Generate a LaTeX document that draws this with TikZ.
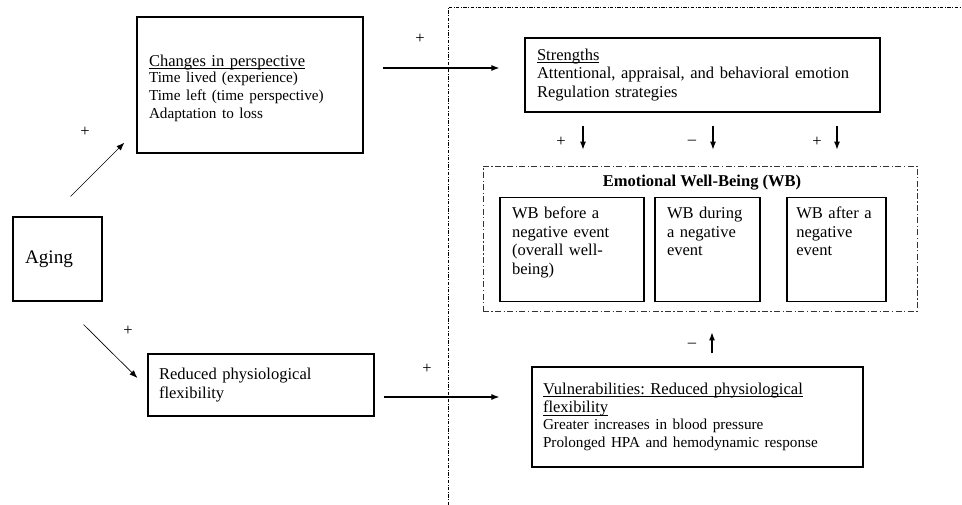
\documentclass[tikz,border=0pt]{standalone}
\usepackage{fontspec}
\setmainfont{Liberation Serif}
\usetikzlibrary{arrows.meta}
\newcommand\bigsize{\fontsize{14.4}{16}\selectfont}
\newcommand\mainsize{\fontsize{12.4}{14}\selectfont}
\newcommand\smallsize{\fontsize{11.4}{13.2}\selectfont}
\newcommand\uln[1]{\leavevmode\setbox0\hbox{#1}\rlap{\rule[-1.8pt]{\wd0}{0.5pt}}\box0}
\frenchspacing
\begin{document}
\begin{tikzpicture}[%
    x=0.75pt,y=-0.75pt,
    box/.style={draw,line width=0.9pt,inner xsep=9pt,align=left,font=\mainsize},
    wbbox/.style={box,anchor=north,inner ysep=3pt,text height=12.75pt,text depth=59.25pt},
    sign/.style={font=\mainsize,inner sep=0pt},
    arr/.style={-{Latex[length=6pt,width=4.5pt]},line width=0.8pt},
    sep/.style={line width=0.5pt,dash pattern=on 2.5pt off 1.2pt on 0.6pt off 1.2pt},
    group/.style={draw,line width=0.6pt,black!80,dash pattern=on 4.5pt off 1.8pt on 1pt off 1.8pt}
  ]
		\useasboundingbox (0,0) rectangle (962,505);

		\draw[sep] (448,505) -- (448,7) -- (962,7);

		\node at (57.5,259) [box,font=\bigsize,text width=48.75pt,minimum height=63pt] (aging) {Aging};

		\node at (250,85) [box,text width=151.5pt,minimum height=102pt] (changes)
			{\rule{0pt}{14pt}\uln{Changes in perspective}\\[-1pt]
			{\smallsize Time lived (experience)\\Time left (time perspective)\\Adaptation to loss}};
		\node at (261,385) [box,inner xsep=8.25pt,text width=153pt,minimum height=46.5pt] (reduced)
			{Reduced physiological\\flexibility};

		\node at (702.5,75) [box,text width=248.25pt,minimum height=55.5pt] (strengths)
			{\uln{Strengths}\\Attentional, appraisal, and behavioral emotion\\Regulation strategies};

		\node at (700,238.5) [group,minimum width=325.5pt,minimum height=108.75pt] (wb) {};
		\node at (702,183) [font=\mainsize\bfseries] (wbtitle) {Emotional Well-Being (WB)};
		\node at (572,197) [wbbox,text width=90pt] (before)
			{WB before a\\negative event\\(overall well-\\being)};
		\node at (707.5,197) [wbbox,text width=60.75pt] (during)
			{WB during\\a negative\\event};
		\node at (836.5,197) [wbbox,inner xsep=7pt,text width=60.25pt] (after)
			{WB after a\\negative\\event};

		\node at (697.5,417) [box,inner xsep=8.25pt,text width=231.75pt,minimum height=75pt] (vuln)
			{\uln{Vulnerabilities: Reduced physiological}\\\uln{flexibility}\\[-1pt]
			{\smallsize Greater increases in blood pressure\\Prolonged HPA and hemodynamic response}};

		% arrows
		\draw[arr,line width=0.5pt] ([shift={(-32,-20)}]aging.north east) -- ([shift={(-12,-11)}]changes.south west);
		\draw[arr,line width=0.5pt] ([shift={(-19,23)}]aging.south east) -- ([shift={(-10,-7)}]reduced.west);
		\draw[arr] ([shift={(19,-17)}]changes.east) -- ([shift={(-25,-7)}]strengths.west);
		\draw[arr] ([shift={(9,12)}]reduced.east) -- ([shift={(-32,-20)}]vuln.west);
		\draw[arr] ([shift={(-119.5,13)}]strengths.south) -- ([shift={(-117,-16)}]wb.north);
		\draw[arr] ([shift={(10.5,13)}]strengths.south) -- ([shift={(13,-16)}]wb.north);
		\draw[arr] ([shift={(134.5,13)}]strengths.south) -- ([shift={(137,-16)}]wb.north);
		\draw[arr] ([shift={(14.5,-13)}]vuln.north) -- ([shift={(12,21)}]wb.south);

		% signs
		\node at (85,132) [sign] (s1) {+};
		\node at (128,331) [sign] (s2) {+};
		\node at (420,39) [sign] (s3) {+};
		\node at (427,369) [sign] (s4) {+};
		\node at (561,142) [sign] (s5) {+};
		\node at (692,142) [sign] (s6) {--};
		\node at (817,142) [sign] (s7) {+};
		\node at (692,345) [sign] (s8) {--};
	\end{tikzpicture}
\end{document}
